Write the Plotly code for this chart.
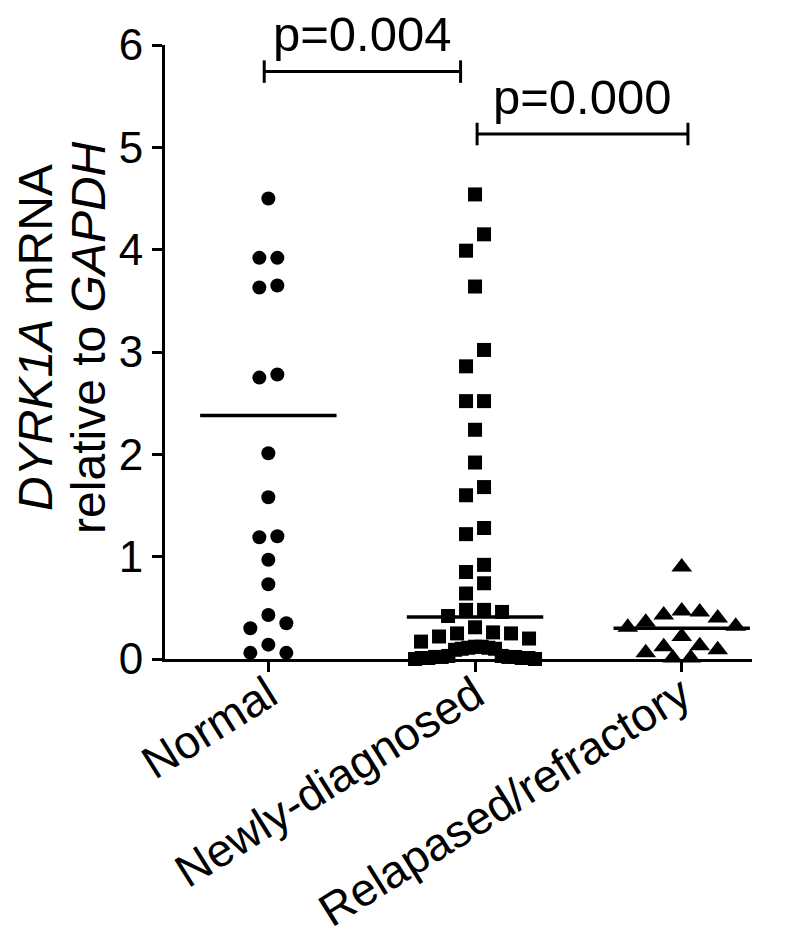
import plotly.graph_objects as go

# groups on the x axis
groups = ["Normal", "Newly-diagnosed", "Relapased/refractory"]

# DYRK1A mRNA relative to GAPDH
normal_values = [4.50, 3.92, 3.92, 3.65, 3.63, 2.78, 2.75, 2.01, 1.58, 1.20, 1.19,
                 0.97, 0.73, 0.43, 0.35, 0.30, 0.14, 0.06, 0.06]
newly_values = [4.54, 4.15, 3.99, 3.64, 3.02, 2.86, 2.52, 2.52, 2.24, 1.92, 1.68,
                1.60, 1.28, 1.22, 0.92, 0.85, 0.74, 0.64, 0.48, 0.48, 0.46, 0.42,
                0.31, 0.26, 0.25, 0.25, 0.22, 0.20, 0.17, 0.12, 0.12, 0.11, 0.11,
                0.10, 0.10, 0.09, 0.03, 0.03, 0.02, 0.02, 0.02, 0.02, 0.01, 0.01,
                0.01, 0.01, 0.00, 0.00]
relapsed_values = [0.90, 0.47, 0.46, 0.43, 0.40, 0.36, 0.32, 0.31, 0.22, 0.13,
                   0.12, 0.09, 0.06, 0.01, 0.01]

# horizontal centre line drawn for each group
center_lines = [2.38, 0.41, 0.30]

# significance brackets: from, to, height, label
bracket_from = [-0.02, 1.01]
bracket_to = [0.93, 2.03]
bracket_y = [5.74, 5.13]
p_labels = ["p=0.004", "p=0.000"]

# y axis title, one entry per line
y_title_lines = ["<i>DYRK1A</i> mRNA", "relative to <i>GAPDH</i>"]

# the page puts the figure 8px in from the corner, so the figure is 8px smaller
W, H = 789, 927
M = dict(l=157, r=45, t=37, b=276)
X_RANGE = [-0.5, 2.34]
Y_RANGE = [0, 6]
px_x = (W - M["l"] - M["r"]) / (X_RANGE[1] - X_RANGE[0])


def spread(values, center, row_gap=0.165, step_px=18, max_px=120):
    """Column-scatter layout: values close in height share a row and are
    spread sideways around the group centre (highest values in the middle)."""
    order = sorted(range(len(values)), key=lambda i: -values[i])
    rows, row = [], []
    for i in order:
        if row and values[row[0]] - values[i] > row_gap + 1e-9:
            rows.append(row)
            row = []
        row.append(i)
    rows.append(row)
    xs = [center] * len(values)
    for row in rows:
        n = len(row)
        step = step_px if n < 2 else min(step_px, max_px / (n - 1))
        slots = [(k - (n - 1) / 2) * step for k in range(n)]
        slots.sort(key=lambda s: (abs(s), -s))
        for i, s in zip(row, slots):
            xs[i] = center + s / px_x
    return xs


fig = go.Figure()

series = [(normal_values, "circle", 14), (newly_values, "square", 14),
          (relapsed_values, "triangle-up", 18)]
for g, (vals, symbol, size) in enumerate(series):
    fig.add_trace(go.Scatter(
        x=spread(vals, g), y=vals, mode="markers",
        marker=dict(symbol=symbol, size=size, color="black", line=dict(width=0)),
        cliponaxis=False, showlegend=False, hoverinfo="y",
    ))
    # centre line
    fig.add_trace(go.Scatter(
        x=[g - 0.33, g + 0.33], y=[center_lines[g]] * 2, mode="lines",
        line=dict(color="black", width=3.5), cliponaxis=False, showlegend=False,
    ))

# brackets with end caps
cap = 0.11
for x0, x1, y, label in zip(bracket_from, bracket_to, bracket_y, p_labels):
    fig.add_trace(go.Scatter(
        x=[x0, x0, None, x0, x1, None, x1, x1],
        y=[y - cap, y + cap, None, y, y, None, y - cap, y + cap],
        mode="lines", line=dict(color="black", width=3),
        cliponaxis=False, showlegend=False, hoverinfo="skip",
    ))
    fig.add_annotation(x=(x0 + x1) / 2, y=y + 0.08, xref="x", yref="y",
                       text=label, showarrow=False, yanchor="bottom",
                       font=dict(size=49, color="black"))

# y axis title, placed by hand (two rotated lines)
for line, xpx in zip(y_title_lines, [28, 81]):
    fig.add_annotation(x=(xpx - M["l"]) / (W - M["l"] - M["r"]), y=0.523,
                       xref="paper", yref="paper", text=line,
                       textangle=-90, showarrow=False, xanchor="center",
                       yanchor="middle", font=dict(size=48, color="black"))

fig.update_layout(
    width=W, height=H, margin=M,
    paper_bgcolor="white", plot_bgcolor="white",
    font=dict(family="Liberation Sans, Arial, sans-serif", color="black"),
    showlegend=False,
)
fig.update_xaxes(
    range=X_RANGE, tickvals=[0, 1, 2], ticktext=groups, tickangle=-32,
    showline=True, linewidth=3, linecolor="black",
    ticks="outside", ticklen=10, tickwidth=3, tickcolor="black",
    showgrid=False, zeroline=False, tickfont=dict(size=46), automargin=False,
    ticklabelstandoff=-22,
)
fig.update_yaxes(
    range=Y_RANGE, dtick=1, showline=True, linewidth=3, linecolor="black",
    ticks="outside", ticklen=10, tickwidth=3, tickcolor="black",
    showgrid=False, zeroline=False, tickfont=dict(size=44), automargin=False,
)

fig.write_html("out.html")
